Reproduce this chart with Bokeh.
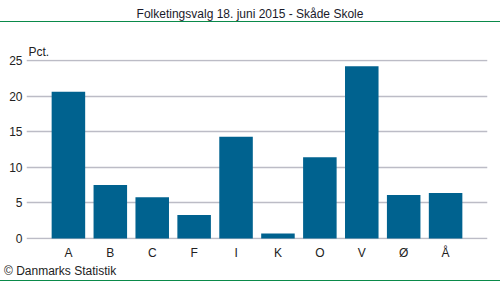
from bokeh.plotting import figure
from bokeh.models import ColumnDataSource, FactorRange, Range1d, FixedTicker, Div, Title
from bokeh.layouts import column
from bokeh.embed import file_html
from bokeh.resources import INLINE

parties = ["A", "B", "C", "F", "I", "K", "O", "V", "Ø", "Å"]
pct = [20.6, 7.5, 5.8, 3.3, 14.3, 0.7, 11.4, 24.2, 6.1, 6.4]
y_ticks = [0, 5, 10, 15, 20, 25]
title_text = "Folketingsvalg 18. juni 2015 - Skåde Skole"
unit_text = "Pct."
source_text = "© Danmarks Statistik"

FONT = "Liberation Sans"
GREEN = "#0a8a4a"
BAR = "#00628f"
GRID = "#bcbcc6"
TXT = "#222222"

src = ColumnDataSource(dict(x=parties, top=pct))

p = figure(width=500, height=239, output_backend="svg", toolbar_location=None,
           x_range=FactorRange(factors=parties, range_padding=0.1, range_padding_units="percent"),
           y_range=Range1d(-0.14, 25.14),
           min_border_left=26, min_border_right=13, min_border_top=36, min_border_bottom=21)
p.outline_line_color = None
p.background_fill_color = "white"
p.border_fill_color = "white"

p.title.text = unit_text
p.title.align = "left"
p.title.offset = 2
p.title.standoff = 2
p.title.text_font = FONT
p.title.text_font_size = "12px"
p.title.text_font_style = "normal"
p.title.text_color = TXT

p.vbar(x="x", top="top", bottom=0, width=0.8, source=src, color=BAR, line_color=None)

p.xgrid.grid_line_color = None
p.ygrid.grid_line_color = GRID
p.ygrid.grid_line_width = 1.5
p.yaxis.ticker = FixedTicker(ticks=y_ticks)
for ax in (p.xaxis, p.yaxis):
    ax.axis_line_color = None
    ax.major_tick_line_color = None
    ax.minor_tick_line_color = None
    ax.major_tick_out = 0
    ax.major_tick_in = 0
    ax.minor_tick_out = 0
    ax.minor_tick_in = 0
    ax.major_label_text_font = FONT
    ax.major_label_text_font_size = "12px"
    ax.major_label_text_color = TXT
p.xaxis.major_label_standoff = 6
p.yaxis.major_label_standoff = 4

head = Div(text=f'<div style="width:500px;height:22px;border-bottom:1px solid {GREEN};'
                f'font-family:{FONT};font-size:12px;line-height:14px;text-align:center;'
                f'color:#1a1a2a;box-sizing:border-box;padding-top:7px;">{title_text}</div>',
           width=500, height=23, margin=0)
foot = Div(text=f'<div style="width:500px;height:19px;border-bottom:1px solid {GREEN};'
                f'font-family:{FONT};font-size:12px;line-height:14px;text-align:left;'
                f'color:{TXT};box-sizing:border-box;padding-top:2px;padding-left:4px;">{source_text}</div>',
           width=500, height=20, margin=0)

layout = column(head, p, foot, spacing=0, margin=0)
open("out.html", "w").write(file_html(layout, INLINE))
